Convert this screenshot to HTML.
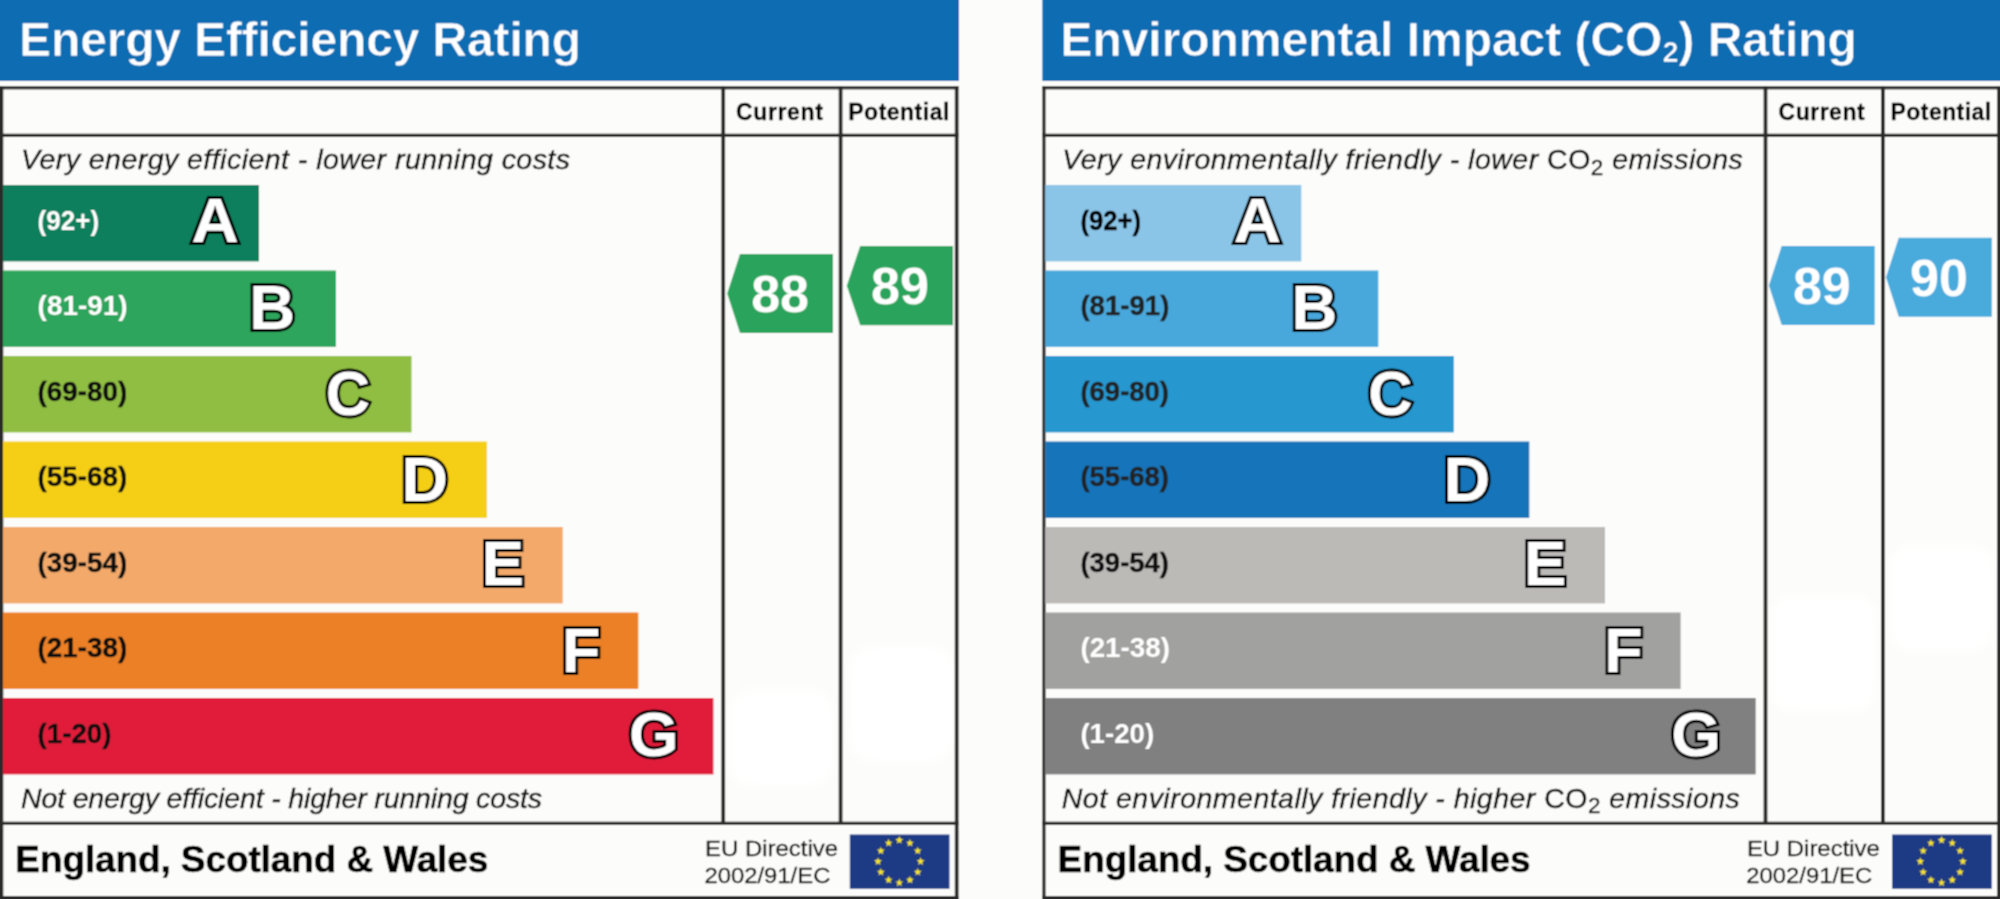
<!DOCTYPE html>
<html><head><meta charset="utf-8"><title>EPC</title><style>
*{margin:0;padding:0}
html,body{width:2000px;height:899px;overflow:hidden;background:#fcfcfa}
svg{display:block;font-family:"Liberation Sans", sans-serif}
.L{font-size:63.5px;font-weight:bold;stroke-linejoin:miter;stroke-miterlimit:2}
</style></head>
<body><svg width="2000" height="899" viewBox="0 0 2000 899">
<defs><filter id="bl" x="-20%" y="-20%" width="140%" height="140%"><feGaussianBlur stdDeviation="5"/></filter><filter id="soft" x="0" y="0" width="2000" height="899" filterUnits="userSpaceOnUse"><feConvolveMatrix order="3" kernelMatrix="1 2 1 2 4 2 1 2 1" preserveAlpha="true" edgeMode="duplicate"/></filter></defs>
<g filter="url(#soft)"><rect width="2000" height="899" fill="#fcfcfa"/>
<rect x="0" y="0" width="959" height="81" fill="#076cb2"/>
<rect x="729" y="690" width="105" height="96" rx="22" fill="#fff" filter="url(#bl)"/>
<rect x="850" y="646" width="104" height="116" rx="22" fill="#fff" filter="url(#bl)"/>
<text id="title1" x="19.10" y="55.60" font-size="48" font-weight="bold" font-style="normal" fill="#fff" textLength="562.00" lengthAdjust="spacing" stroke="#076cb2" stroke-width="0.7">Energy Efficiency Rating</text>
<rect x="0.00" y="86.20" width="958.50" height="3.20" fill="#2c2c2c"/>
<rect x="0.00" y="86.20" width="3.30" height="812.80" fill="#2c2c2c"/>
<rect x="954.80" y="86.20" width="3.80" height="812.80" fill="#2c2c2c"/>
<rect x="0.00" y="896.00" width="958.50" height="3.00" fill="#2c2c2c"/>
<rect x="0.00" y="133.70" width="958.50" height="3.30" fill="#2c2c2c"/>
<rect x="0.00" y="821.70" width="958.50" height="3.20" fill="#2c2c2c"/>
<rect x="721.30" y="86.20" width="3.80" height="737.00" fill="#2c2c2c"/>
<rect x="838.70" y="86.20" width="3.80" height="737.00" fill="#2c2c2c"/>
<text id="cur1" x="736.05" y="120.20" font-size="23" font-weight="bold" font-style="normal" fill="#000" textLength="86.75" lengthAdjust="spacing" stroke="#000" stroke-width="0.3">Current</text>
<text id="pot1" x="848.30" y="120.20" font-size="23" font-weight="bold" font-style="normal" fill="#000" textLength="101.00" lengthAdjust="spacing" stroke="#000" stroke-width="0.3">Potential</text>
<text id="top1" x="21.00" y="169.40" font-size="28.5" font-weight="normal" font-style="italic" fill="#111" textLength="549.00" lengthAdjust="spacing" stroke="#111" stroke-width="0.4">Very energy efficient - lower running costs</text>
<text id="bot1" x="21.00" y="807.90" font-size="28.5" font-weight="normal" font-style="italic" fill="#111" textLength="521.00" lengthAdjust="spacing" stroke="#111" stroke-width="0.4">Not energy efficient - higher running costs</text>
<rect x="3" y="185" width="256" height="76.4" fill="#117f5b"/>
<text id="rng10" x="37.60" y="229.70" font-size="27.8" font-weight="bold" font-style="normal" fill="#fff" textLength="61.64" lengthAdjust="spacingAndGlyphs" >(92+)</text>
<g transform="translate(190.00 0) scale(1.03 1) translate(-190.00 0)"><text x="191.42" y="242.30" class="L" stroke="#000" stroke-width="6.0">A</text><text x="191.42" y="242.30" class="L" fill="#fff" stroke="#fff" stroke-width="0.0">A</text></g>
<rect x="3" y="270.5" width="333" height="76.4" fill="#2ea55b"/>
<text id="rng11" x="37.60" y="315.20" font-size="27.8" font-weight="bold" font-style="normal" fill="#fff" textLength="90.04" lengthAdjust="spacingAndGlyphs" >(81-91)</text>
<g ><text x="249.25" y="328.80" class="L" stroke="#000" stroke-width="6.0">B</text><text x="249.25" y="328.80" class="L" fill="#fff" stroke="#fff" stroke-width="0.0">B</text></g>
<rect x="3" y="356" width="408.5" height="76.4" fill="#8fbe42"/>
<text id="rng12" x="37.60" y="400.70" font-size="27.8" font-weight="bold" font-style="normal" fill="#111" textLength="89.64" lengthAdjust="spacingAndGlyphs" stroke="#111" stroke-width="0.35">(69-80)</text>
<g transform="translate(325.50 0) scale(0.965 1) translate(-325.50 0)"><text x="325.90" y="414.80" class="L" stroke="#000" stroke-width="6.0">C</text><text x="325.90" y="414.80" class="L" fill="#fff" stroke="#fff" stroke-width="0.0">C</text></g>
<rect x="3" y="441.5" width="484" height="76.4" fill="#f4cf18"/>
<text id="rng13" x="37.60" y="486.20" font-size="27.8" font-weight="bold" font-style="normal" fill="#111" textLength="89.64" lengthAdjust="spacingAndGlyphs" stroke="#111" stroke-width="0.35">(55-68)</text>
<g transform="translate(402.80 0) scale(1.015 1) translate(-402.80 0)"><text x="401.55" y="501.50" class="L" stroke="#000" stroke-width="6.0">D</text><text x="401.55" y="501.50" class="L" fill="#fff" stroke="#fff" stroke-width="0.0">D</text></g>
<rect x="3" y="527" width="559.7" height="76.4" fill="#f2a96b"/>
<text id="rng14" x="37.60" y="571.70" font-size="27.8" font-weight="bold" font-style="normal" fill="#111" textLength="89.64" lengthAdjust="spacingAndGlyphs" stroke="#111" stroke-width="0.35">(39-54)</text>
<g ><text x="481.65" y="585.00" class="L" stroke="#000" stroke-width="6.0">E</text><text x="481.65" y="585.00" class="L" fill="#fff" stroke="#fff" stroke-width="0.0">E</text></g>
<rect x="3" y="612.5" width="635.3" height="76.4" fill="#ec8025"/>
<text id="rng15" x="37.60" y="657.20" font-size="27.8" font-weight="bold" font-style="normal" fill="#111" textLength="89.64" lengthAdjust="spacingAndGlyphs" stroke="#111" stroke-width="0.35">(21-38)</text>
<g transform="translate(563.20 0) scale(0.99 1) translate(-563.20 0)"><text x="561.95" y="671.60" class="L" stroke="#000" stroke-width="6.0">F</text><text x="561.95" y="671.60" class="L" fill="#fff" stroke="#fff" stroke-width="0.0">F</text></g>
<rect x="3" y="698" width="710.4" height="76.4" fill="#e11f3b"/>
<text id="rng16" x="37.60" y="742.70" font-size="27.8" font-weight="bold" font-style="normal" fill="#111" textLength="73.84" lengthAdjust="spacingAndGlyphs" stroke="#111" stroke-width="0.35">(1-20)</text>
<g transform="translate(628.60 0) scale(1.005 1) translate(-628.60 0)"><text x="629.00" y="756.40" class="L" stroke="#000" stroke-width="6.0">G</text><text x="629.00" y="756.40" class="L" fill="#fff" stroke="#fff" stroke-width="0.0">G</text></g>
<path d="M727.20 293.50 L740.00 254.00 H833.00 V333.00 H740.00 Z" fill="#2ca45b"/>
<text id="val10" x="780.10" y="312.00" font-size="52" font-weight="bold" font-style="normal" fill="#fff" text-anchor="middle">88</text>
<path d="M846.80 285.65 L860.20 246.00 H953.00 V325.30 H860.20 Z" fill="#2ca45b"/>
<text id="val11" x="899.90" y="304.15" font-size="52" font-weight="bold" font-style="normal" fill="#fff" text-anchor="middle">89</text>
<text id="foot1" x="15.32" y="871.80" font-size="37" font-weight="bold" font-style="normal" fill="#000" textLength="473.00" lengthAdjust="spacing" stroke="#000" stroke-width="0.5">England, Scotland &amp; Wales</text>
<text id="eua1" x="705.10" y="856.00" font-size="22.3" font-weight="normal" font-style="normal" fill="#111" textLength="133.00" lengthAdjust="spacingAndGlyphs" stroke="#111" stroke-width="0.3">EU Directive</text>
<text id="eub1" x="704.40" y="883.20" font-size="22.3" font-weight="normal" font-style="normal" fill="#111" textLength="126.00" lengthAdjust="spacingAndGlyphs" stroke="#111" stroke-width="0.3">2002/91/EC</text>
<rect x="849.8" y="834.5" width="99.7" height="54.3" fill="#1f3a84"/><polygon points="899.30,836.00 900.30,838.82 903.29,838.90 900.92,840.73 901.77,843.60 899.30,841.90 896.83,843.60 897.68,840.73 895.31,838.90 898.30,838.82" fill="#f5e52a"/><polygon points="909.95,838.85 910.95,841.68 913.94,841.76 911.57,843.58 912.42,846.45 909.95,844.75 907.48,846.45 908.33,843.58 905.96,841.76 908.95,841.68" fill="#f5e52a"/><polygon points="917.75,846.65 918.75,849.47 921.74,849.55 919.36,851.38 920.22,854.25 917.75,852.55 915.28,854.25 916.13,851.38 913.75,849.55 916.75,849.47" fill="#f5e52a"/><polygon points="920.60,857.30 921.60,860.12 924.59,860.20 922.22,862.03 923.07,864.90 920.60,863.20 918.13,864.90 918.98,862.03 916.61,860.20 919.60,860.12" fill="#f5e52a"/><polygon points="917.75,867.95 918.75,870.77 921.74,870.85 919.36,872.68 920.22,875.55 917.75,873.85 915.28,875.55 916.13,872.68 913.75,870.85 916.75,870.77" fill="#f5e52a"/><polygon points="909.95,875.75 910.95,878.57 913.94,878.65 911.57,880.47 912.42,883.34 909.95,881.65 907.48,883.34 908.33,880.47 905.96,878.65 908.95,878.57" fill="#f5e52a"/><polygon points="899.30,878.60 900.30,881.42 903.29,881.50 900.92,883.33 901.77,886.20 899.30,884.50 896.83,886.20 897.68,883.33 895.31,881.50 898.30,881.42" fill="#f5e52a"/><polygon points="888.65,875.75 889.65,878.57 892.64,878.65 890.27,880.47 891.12,883.34 888.65,881.65 886.18,883.34 887.03,880.47 884.66,878.65 887.65,878.57" fill="#f5e52a"/><polygon points="880.85,867.95 881.85,870.77 884.85,870.85 882.47,872.68 883.32,875.55 880.85,873.85 878.38,875.55 879.24,872.68 876.86,870.85 879.85,870.77" fill="#f5e52a"/><polygon points="878.00,857.30 879.00,860.12 881.99,860.20 879.62,862.03 880.47,864.90 878.00,863.20 875.53,864.90 876.38,862.03 874.01,860.20 877.00,860.12" fill="#f5e52a"/><polygon points="880.85,846.65 881.85,849.47 884.85,849.55 882.47,851.38 883.32,854.25 880.85,852.55 878.38,854.25 879.24,851.38 876.86,849.55 879.85,849.47" fill="#f5e52a"/><polygon points="888.65,838.85 889.65,841.68 892.64,841.76 890.27,843.58 891.12,846.45 888.65,844.75 886.18,846.45 887.03,843.58 884.66,841.76 887.65,841.68" fill="#f5e52a"/>
<rect x="1042.3" y="0" width="957.7" height="81" fill="#076cb2"/>
<rect x="1770" y="595" width="107" height="117" rx="22" fill="#fff" filter="url(#bl)"/>
<rect x="1889" y="545" width="105" height="107" rx="22" fill="#fff" filter="url(#bl)"/>
<text id="title2" x="1060.40" y="55.60" font-size="48" font-weight="bold" font-style="normal" fill="#fff" textLength="796.50" lengthAdjust="spacing" stroke="#076cb2" stroke-width="0.7">Environmental Impact (CO<tspan font-size="29" dy="5.9">2</tspan><tspan dy="-5.9">) Rating</tspan></text>
<rect x="1042.30" y="86.20" width="957.20" height="3.20" fill="#2c2c2c"/>
<rect x="1042.30" y="86.20" width="3.30" height="812.80" fill="#2c2c2c"/>
<rect x="1997.10" y="86.20" width="3.80" height="812.80" fill="#2c2c2c"/>
<rect x="1042.30" y="896.00" width="957.20" height="3.00" fill="#2c2c2c"/>
<rect x="1042.30" y="133.70" width="957.20" height="3.30" fill="#2c2c2c"/>
<rect x="1042.30" y="821.70" width="957.20" height="3.20" fill="#2c2c2c"/>
<rect x="1763.60" y="86.20" width="3.80" height="737.00" fill="#2c2c2c"/>
<rect x="1881.00" y="86.20" width="3.80" height="737.00" fill="#2c2c2c"/>
<text id="cur2" x="1778.60" y="120.20" font-size="23" font-weight="bold" font-style="normal" fill="#000" textLength="86.00" lengthAdjust="spacing" stroke="#000" stroke-width="0.3">Current</text>
<text id="pot2" x="1890.60" y="120.20" font-size="23" font-weight="bold" font-style="normal" fill="#000" textLength="100.50" lengthAdjust="spacing" stroke="#000" stroke-width="0.3">Potential</text>
<text id="top2" x="1062.30" y="169.40" font-size="28.5" font-weight="normal" font-style="italic" fill="#111" textLength="680.50" lengthAdjust="spacing" stroke="#111" stroke-width="0.4">Very environmentally friendly - lower <tspan font-style="normal">CO</tspan><tspan font-style="normal" font-size="22.5" dy="5.2">2</tspan><tspan dy="-5.2"> emissions</tspan></text>
<text id="bot2" x="1061.80" y="807.90" font-size="28.5" font-weight="normal" font-style="italic" fill="#111" textLength="678.00" lengthAdjust="spacing" stroke="#111" stroke-width="0.4">Not environmentally friendly - higher <tspan font-style="normal">CO</tspan><tspan font-style="normal" font-size="22.5" dy="5.2">2</tspan><tspan dy="-5.2"> emissions</tspan></text>
<rect x="1045.3" y="185" width="256" height="76.4" fill="#8ac4e7"/>
<text id="rng20" x="1080.40" y="229.70" font-size="27.8" font-weight="bold" font-style="normal" fill="#000" textLength="60.64" lengthAdjust="spacingAndGlyphs" stroke="#000" stroke-width="0.35">(92+)</text>
<g transform="translate(1232.30 0) scale(1.03 1) translate(-1232.30 0)"><text x="1233.72" y="242.30" class="L" stroke="#000" stroke-width="6.0">A</text><text x="1233.72" y="242.30" class="L" fill="#fff" stroke="#fff" stroke-width="0.0">A</text></g>
<rect x="1045.3" y="270.5" width="333" height="76.4" fill="#48a8db"/>
<text id="rng21" x="1080.40" y="315.20" font-size="27.8" font-weight="bold" font-style="normal" fill="#222" textLength="89.04" lengthAdjust="spacingAndGlyphs" stroke="#222" stroke-width="0.35">(81-91)</text>
<g ><text x="1291.55" y="328.80" class="L" stroke="#000" stroke-width="6.0">B</text><text x="1291.55" y="328.80" class="L" fill="#fff" stroke="#fff" stroke-width="0.0">B</text></g>
<rect x="1045.3" y="356" width="408.5" height="76.4" fill="#2797cf"/>
<text id="rng22" x="1080.40" y="400.70" font-size="27.8" font-weight="bold" font-style="normal" fill="#222" textLength="88.64" lengthAdjust="spacingAndGlyphs" stroke="#222" stroke-width="0.35">(69-80)</text>
<g transform="translate(1367.80 0) scale(0.965 1) translate(-1367.80 0)"><text x="1368.20" y="414.80" class="L" stroke="#000" stroke-width="6.0">C</text><text x="1368.20" y="414.80" class="L" fill="#fff" stroke="#fff" stroke-width="0.0">C</text></g>
<rect x="1045.3" y="441.5" width="484" height="76.4" fill="#1775ba"/>
<text id="rng23" x="1080.40" y="486.20" font-size="27.8" font-weight="bold" font-style="normal" fill="#222" textLength="88.64" lengthAdjust="spacingAndGlyphs" stroke="#222" stroke-width="0.35">(55-68)</text>
<g transform="translate(1445.10 0) scale(1.015 1) translate(-1445.10 0)"><text x="1443.85" y="501.50" class="L" stroke="#000" stroke-width="6.0">D</text><text x="1443.85" y="501.50" class="L" fill="#fff" stroke="#fff" stroke-width="0.0">D</text></g>
<rect x="1045.3" y="527" width="559.7" height="76.4" fill="#bbbab7"/>
<text id="rng24" x="1080.40" y="571.70" font-size="27.8" font-weight="bold" font-style="normal" fill="#111" textLength="88.64" lengthAdjust="spacingAndGlyphs" stroke="#111" stroke-width="0.35">(39-54)</text>
<g ><text x="1523.95" y="585.00" class="L" stroke="#000" stroke-width="6.0">E</text><text x="1523.95" y="585.00" class="L" fill="#fff" stroke="#fff" stroke-width="0.0">E</text></g>
<rect x="1045.3" y="612.5" width="635.3" height="76.4" fill="#a1a1a0"/>
<text id="rng25" x="1080.40" y="657.20" font-size="27.8" font-weight="bold" font-style="normal" fill="#fff" textLength="89.64" lengthAdjust="spacingAndGlyphs" >(21-38)</text>
<g transform="translate(1605.50 0) scale(0.99 1) translate(-1605.50 0)"><text x="1604.25" y="671.60" class="L" stroke="#000" stroke-width="6.0">F</text><text x="1604.25" y="671.60" class="L" fill="#fff" stroke="#fff" stroke-width="0.0">F</text></g>
<rect x="1045.3" y="698" width="710.4" height="76.4" fill="#808080"/>
<text id="rng26" x="1080.40" y="742.70" font-size="27.8" font-weight="bold" font-style="normal" fill="#fff" textLength="73.84" lengthAdjust="spacingAndGlyphs" >(1-20)</text>
<g transform="translate(1670.90 0) scale(1.005 1) translate(-1670.90 0)"><text x="1671.30" y="756.40" class="L" stroke="#000" stroke-width="6.0">G</text><text x="1671.30" y="756.40" class="L" fill="#fff" stroke="#fff" stroke-width="0.0">G</text></g>
<path d="M1768.90 285.55 L1781.70 246.10 H1874.70 V325.00 H1781.70 Z" fill="#48aadc"/>
<text id="val20" x="1821.80" y="304.05" font-size="52" font-weight="bold" font-style="normal" fill="#fff" text-anchor="middle">89</text>
<path d="M1886.00 277.30 L1898.80 237.80 H1991.80 V316.80 H1898.80 Z" fill="#48aadc"/>
<text id="val21" x="1938.90" y="295.80" font-size="52" font-weight="bold" font-style="normal" fill="#fff" text-anchor="middle">90</text>
<text id="foot2" x="1057.62" y="871.80" font-size="37" font-weight="bold" font-style="normal" fill="#000" textLength="473.00" lengthAdjust="spacing" stroke="#000" stroke-width="0.5">England, Scotland &amp; Wales</text>
<text id="eua2" x="1746.90" y="856.00" font-size="22.3" font-weight="normal" font-style="normal" fill="#111" textLength="133.00" lengthAdjust="spacingAndGlyphs" stroke="#111" stroke-width="0.3">EU Directive</text>
<text id="eub2" x="1746.20" y="883.20" font-size="22.3" font-weight="normal" font-style="normal" fill="#111" textLength="126.00" lengthAdjust="spacingAndGlyphs" stroke="#111" stroke-width="0.3">2002/91/EC</text>
<rect x="1892.1" y="834.5" width="99.7" height="54.3" fill="#1f3a84"/><polygon points="1941.60,836.00 1942.60,838.82 1945.59,838.90 1943.22,840.73 1944.07,843.60 1941.60,841.90 1939.13,843.60 1939.98,840.73 1937.61,838.90 1940.60,838.82" fill="#f5e52a"/><polygon points="1952.25,838.85 1953.25,841.68 1956.24,841.76 1953.87,843.58 1954.72,846.45 1952.25,844.75 1949.78,846.45 1950.63,843.58 1948.26,841.76 1951.25,841.68" fill="#f5e52a"/><polygon points="1960.05,846.65 1961.05,849.47 1964.04,849.55 1961.66,851.38 1962.52,854.25 1960.05,852.55 1957.58,854.25 1958.43,851.38 1956.05,849.55 1959.05,849.47" fill="#f5e52a"/><polygon points="1962.90,857.30 1963.90,860.12 1966.89,860.20 1964.52,862.03 1965.37,864.90 1962.90,863.20 1960.43,864.90 1961.28,862.03 1958.91,860.20 1961.90,860.12" fill="#f5e52a"/><polygon points="1960.05,867.95 1961.05,870.77 1964.04,870.85 1961.66,872.68 1962.52,875.55 1960.05,873.85 1957.58,875.55 1958.43,872.68 1956.05,870.85 1959.05,870.77" fill="#f5e52a"/><polygon points="1952.25,875.75 1953.25,878.57 1956.24,878.65 1953.87,880.47 1954.72,883.34 1952.25,881.65 1949.78,883.34 1950.63,880.47 1948.26,878.65 1951.25,878.57" fill="#f5e52a"/><polygon points="1941.60,878.60 1942.60,881.42 1945.59,881.50 1943.22,883.33 1944.07,886.20 1941.60,884.50 1939.13,886.20 1939.98,883.33 1937.61,881.50 1940.60,881.42" fill="#f5e52a"/><polygon points="1930.95,875.75 1931.95,878.57 1934.94,878.65 1932.57,880.47 1933.42,883.34 1930.95,881.65 1928.48,883.34 1929.33,880.47 1926.96,878.65 1929.95,878.57" fill="#f5e52a"/><polygon points="1923.15,867.95 1924.15,870.77 1927.15,870.85 1924.77,872.68 1925.62,875.55 1923.15,873.85 1920.68,875.55 1921.54,872.68 1919.16,870.85 1922.15,870.77" fill="#f5e52a"/><polygon points="1920.30,857.30 1921.30,860.12 1924.29,860.20 1921.92,862.03 1922.77,864.90 1920.30,863.20 1917.83,864.90 1918.68,862.03 1916.31,860.20 1919.30,860.12" fill="#f5e52a"/><polygon points="1923.15,846.65 1924.15,849.47 1927.15,849.55 1924.77,851.38 1925.62,854.25 1923.15,852.55 1920.68,854.25 1921.54,851.38 1919.16,849.55 1922.15,849.47" fill="#f5e52a"/><polygon points="1930.95,838.85 1931.95,841.68 1934.94,841.76 1932.57,843.58 1933.42,846.45 1930.95,844.75 1928.48,846.45 1929.33,843.58 1926.96,841.76 1929.95,841.68" fill="#f5e52a"/>
</g>
</svg></body></html>
